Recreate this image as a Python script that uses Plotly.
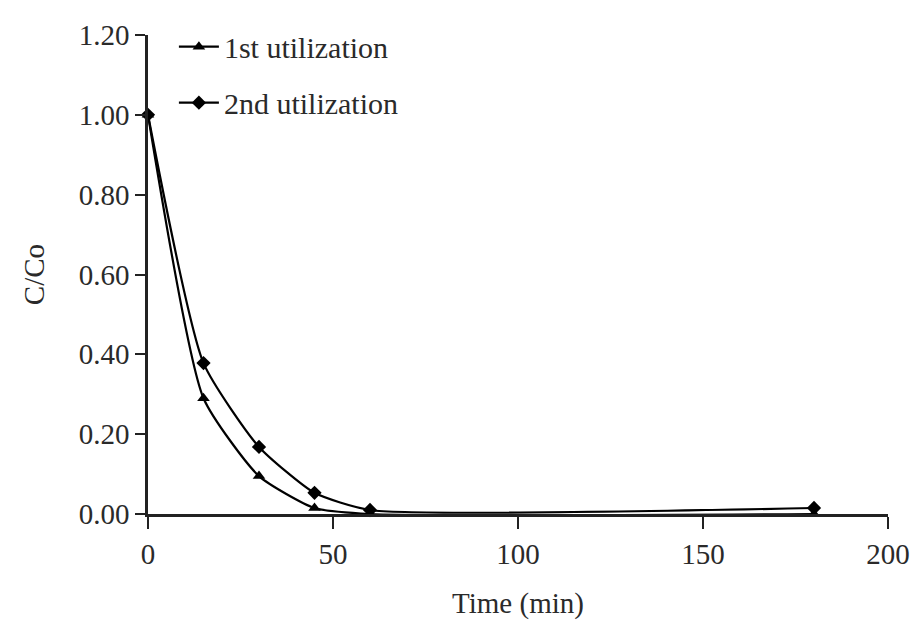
import plotly.graph_objects as go

time_min = [0, 15, 30, 45, 60, 180]
first_util = [1.00, 0.29, 0.095, 0.015, 0.00, 0.00]
second_util = [1.00, 0.378, 0.168, 0.053, 0.01, 0.015]
x_ticks = [0, 50, 100, 150, 200]
y_ticks = [0.0, 0.2, 0.4, 0.6, 0.8, 1.0, 1.2]
y_tick_text = ["0.00", "0.20", "0.40", "0.60", "0.80", "1.00", "1.20"]

FONT = "Liberation Serif"
TXT = "#2a2a2a"

fig = go.Figure()
fig.add_trace(go.Scatter(
    x=time_min, y=first_util, name="1st utilization", mode="lines+markers",
    line=dict(color="black", width=2.2, shape="spline", smoothing=0.55),
    marker=dict(symbol="triangle-up", size=11, color="black"),
    cliponaxis=False, legendgroup="a"))
fig.add_trace(go.Scatter(
    x=time_min, y=second_util, name="2nd utilization", mode="lines+markers",
    line=dict(color="black", width=2.2, shape="spline", smoothing=0.55),
    marker=dict(symbol="diamond", size=11, color="black"),
    cliponaxis=False, legendgroup="b"))

fig.update_layout(
    width=916, height=620,
    margin=dict(l=148, r=28, t=35, b=106, autoexpand=False),
    plot_bgcolor="white", paper_bgcolor="white",
    font=dict(family=FONT, size=29, color=TXT),
    showlegend=True,
    legend=dict(x=0.035, y=1.03, xanchor="left", yanchor="top",
                bgcolor="rgba(0,0,0,0)", font=dict(family=FONT, size=30, color=TXT),
                traceorder="grouped", tracegroupgap=14, itemwidth=40),
    xaxis=dict(range=[0, 200], tickvals=x_ticks, ticks="outside", ticklen=12, automargin=False,
               tickwidth=2, tickcolor="#222", showline=True, linecolor="#222", linewidth=2.5,
               showgrid=False, zeroline=False, tickfont=dict(family=FONT, size=29, color=TXT),
               title=dict(text="Time (min)", font=dict(family=FONT, size=29, color=TXT), standoff=28)),
    yaxis=dict(range=[0, 1.2], tickvals=y_ticks, ticktext=y_tick_text, ticks="outside", ticklen=10,
               automargin=False,
               tickwidth=2, tickcolor="#222", showline=True, linecolor="#222", linewidth=2.5,
               showgrid=False, zeroline=False, tickfont=dict(family=FONT, size=29, color=TXT),
               title=dict(text="C/Co", font=dict(family=FONT, size=29, color=TXT), standoff=26)),
)

fig.write_html("out.html")
